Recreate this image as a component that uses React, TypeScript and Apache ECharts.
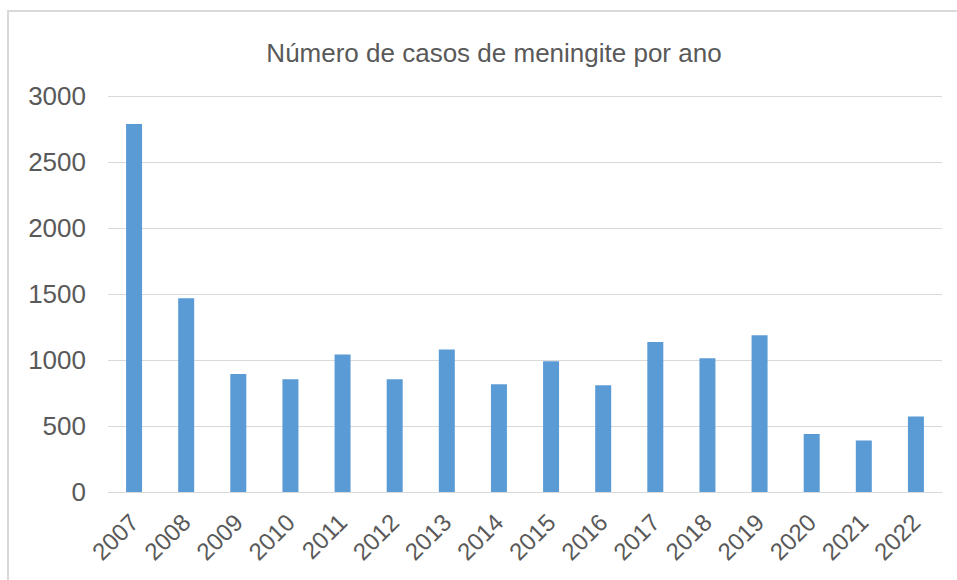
import React, { useEffect, useRef } from "react";
import * as echarts from "echarts";

const years = ["2007", "2008", "2009", "2010", "2011", "2012", "2013", "2014", "2015", "2016", "2017", "2018", "2019", "2020", "2021", "2022"];
const cases = [2788, 1467, 893, 855, 1041, 855, 1079, 817, 991, 809, 1137, 1014, 1188, 439, 390, 572];
const yTicks = [0, 500, 1000, 1500, 2000, 2500, 3000];
const titleText = "Número de casos de meningite por ano";

export default function App() {
  const ref = useRef<HTMLDivElement>(null);
  useEffect(() => {
    if (!ref.current) return;
    const chart = echarts.init(ref.current, undefined, { renderer: "svg" });
    const font = "'Liberation Sans', Arial, sans-serif";
    chart.setOption({
      animation: false,
      backgroundColor: "#ffffff",
      textStyle: { fontFamily: font },
      title: {
        text: titleText,
        left: 489,
        top: 35,
        textAlign: "center",
        textStyle: { fontFamily: font, fontSize: 26, fontWeight: "normal", color: "#595959" },
      },
      graphic: [
        {
          type: "rect",
          shape: { x: 8, y: 11, width: 980, height: 620 },
          style: { fill: "none", stroke: "#d9d9d9", lineWidth: 2 },
          silent: true,
        },
      ],
      grid: { left: 108, right: 15, top: 96, bottom: 88 },
      xAxis: {
        type: "category",
        data: years,
        axisLine: { show: true, lineStyle: { color: "#d9d9d9", width: 1 } },
        axisTick: { show: false },
        axisLabel: { rotate: 45, fontSize: 24, color: "#595959", margin: 26, fontFamily: font },
      },
      yAxis: {
        type: "value",
        min: yTicks[0],
        max: yTicks[yTicks.length - 1],
        interval: 500,
        axisLine: { show: false },
        axisTick: { show: false },
        splitLine: { lineStyle: { color: "#d9d9d9", width: 1 } },
        axisLabel: { fontSize: 26, color: "#595959", margin: 22, fontFamily: font, formatter: (v: number) => String(v) },
      },
      series: [
        {
          type: "bar",
          data: cases,
          barWidth: 16,
          itemStyle: { color: "#5b9bd5" },
        },
      ],
    });
    return () => chart.dispose();
  }, []);
  return <div ref={ref} style={{ position: "fixed", left: 0, top: 0, width: 957, height: 580 }} />;
}
